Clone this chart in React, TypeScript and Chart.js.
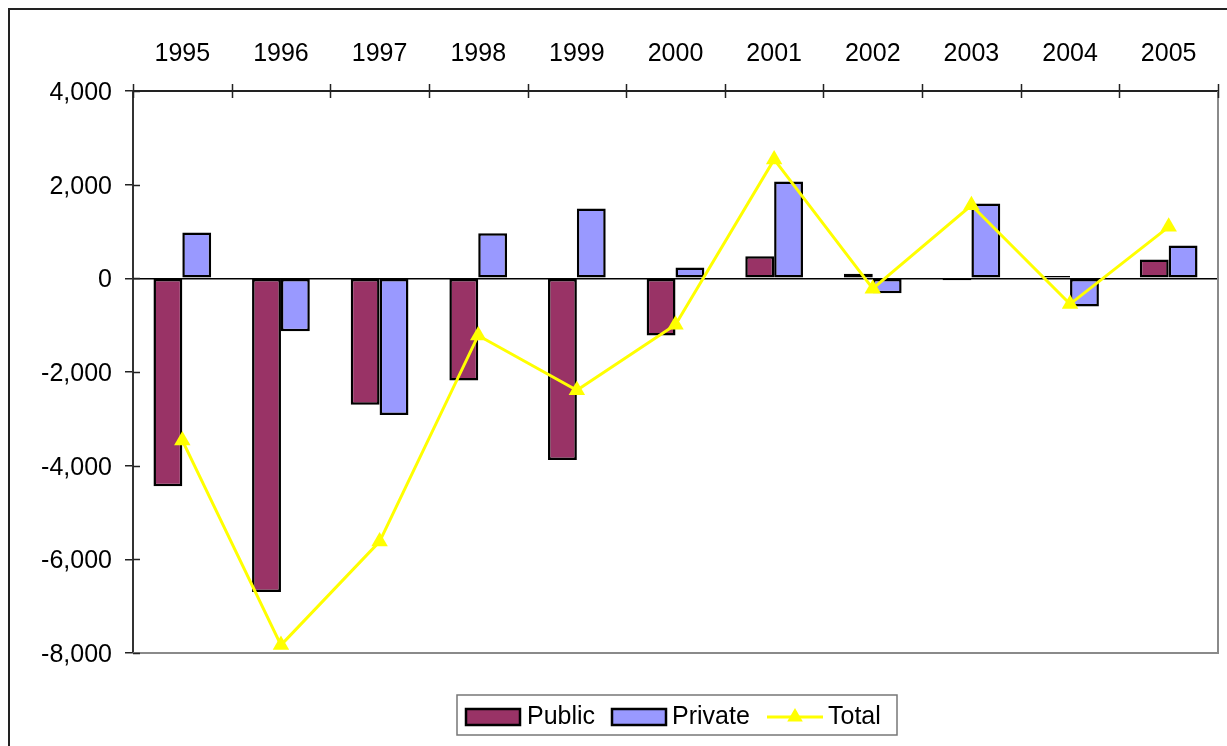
import React, { useEffect, useRef } from "react";
import { Chart, registerables } from "chart.js";

Chart.register(...registerables);

const years = ["1995", "1996", "1997", "1998", "1999", "2000", "2001", "2002", "2003", "2004", "2005"];
const publicValues = [-4440, -6700, -2700, -2180, -3880, -1220, 470, 100, -40, 50, 400];
const privateValues = [980, -1130, -2920, 960, 1490, 230, 2070, -320, 1600, -600, 700];
const totalValues = [-3460, -7830, -5620, -1220, -2390, -990, 2540, -220, 1560, -550, 1100];
const yMin = -8000;
const yMax = 4000;
const yStep = 2000;

const FONT = "'Liberation Sans', Arial, sans-serif";
const PUBLIC_COLOR = "#993366";
const PRIVATE_COLOR = "#9999FF";
const TOTAL_COLOR = "#FFFF00";

const W = 1230;
const H = 745;

function triangle(ctx: CanvasRenderingContext2D, x: number, y: number, r: number) {
  ctx.beginPath();
  for (let k = 0; k < 3; k++) {
    const a = (k * 2 * Math.PI) / 3;
    const px = x + Math.sin(a) * r;
    const py = y - Math.cos(a) * r;
    if (k === 0) ctx.moveTo(px, py);
    else ctx.lineTo(px, py);
  }
  ctx.closePath();
  ctx.fill();
}

const decorPlugin = {
  id: "decor",
  beforeDraw(chart: any) {
    const ctx = chart.ctx;
    ctx.save();
    ctx.fillStyle = "#fff";
    ctx.fillRect(0, 0, chart.width, chart.height);
    ctx.strokeStyle = "#222";
    ctx.lineWidth = 2;
    ctx.strokeRect(1, 1, chart.width + 10, chart.height + 10);
    ctx.restore();
  },
  beforeDatasetsDraw(chart: any) {
    const ctx = chart.ctx;
    const a = chart.chartArea;
    ctx.save();
    ctx.strokeStyle = "#8a8a8a";
    ctx.lineWidth = 2;
    ctx.beginPath();
    ctx.moveTo(a.left, a.bottom);
    ctx.lineTo(a.right, a.bottom);
    ctx.lineTo(a.right, a.top);
    ctx.stroke();
    // category tick marks on the top axis, crossing the axis line
    const n = years.length;
    ctx.strokeStyle = "#222";
    ctx.lineWidth = 1.5;
    ctx.beginPath();
    for (let i = 0; i <= n; i++) {
      const x = Math.round(a.left + (i * (a.right - a.left)) / n) + 0.5;
      ctx.moveTo(x, a.top - 7);
      ctx.lineTo(x, a.top + 7);
    }
    // inner part of the value-axis tick marks
    const ys = chart.scales.y;
    ys.ticks.forEach((t: any) => {
      const y = Math.round(ys.getPixelForValue(t.value)) + 0.5;
      ctx.moveTo(a.left, y);
      ctx.lineTo(a.left + 7, y);
    });
    ctx.stroke();
    ctx.restore();
  },
  afterDraw(chart: any) {
    const ctx = chart.ctx;
    ctx.save();
    // legend
    const bx = 449, by = 687, bw = 440, bh = 40;
    ctx.strokeStyle = "#777";
    ctx.lineWidth = 1.5;
    ctx.strokeRect(bx, by, bw, bh);
    const cy = by + 22;
    ctx.font = `25px ${FONT}`;
    ctx.fillStyle = "#000";
    ctx.textBaseline = "middle";
    ctx.textAlign = "left";
    // Public
    ctx.fillStyle = PUBLIC_COLOR;
    ctx.fillRect(458, cy - 8, 54, 16);
    ctx.strokeStyle = "#000";
    ctx.lineWidth = 2.5;
    ctx.strokeRect(458, cy - 8, 54, 16);
    ctx.fillStyle = "#000";
    ctx.fillText("Public", 519, cy);
    // Private
    ctx.fillStyle = PRIVATE_COLOR;
    ctx.fillRect(604, cy - 8, 54, 16);
    ctx.strokeRect(604, cy - 8, 54, 16);
    ctx.fillStyle = "#000";
    ctx.fillText("Private", 664, cy);
    // Total
    ctx.strokeStyle = TOTAL_COLOR;
    ctx.lineWidth = 3;
    ctx.beginPath();
    ctx.moveTo(759, cy);
    ctx.lineTo(815, cy);
    ctx.stroke();
    ctx.fillStyle = TOTAL_COLOR;
    triangle(ctx, 787, cy, 9);
    ctx.fillStyle = "#000";
    ctx.fillText("Total", 820, cy);
    ctx.restore();
  },
};

export default function App() {
  const ref = useRef<HTMLCanvasElement | null>(null);

  useEffect(() => {
    document.documentElement.style.overflow = "hidden";
    const canvas = ref.current;
    if (!canvas) return;
    Chart.defaults.font.family = FONT;
    Chart.defaults.font.size = 25;
    Chart.defaults.color = "#000";

    const chart = new Chart(canvas, {
      type: "bar",
      data: {
        labels: years,
        datasets: [
          {
            type: "bar",
            label: "Public",
            data: publicValues,
            backgroundColor: PUBLIC_COLOR,
            borderColor: "#000",
            borderWidth: 2.5,
            borderSkipped: false,
            order: 1,
            categoryPercentage: 0.585,
            barPercentage: 1.0,
          },
          {
            type: "bar",
            label: "Private",
            data: privateValues,
            backgroundColor: PRIVATE_COLOR,
            borderColor: "#000",
            borderWidth: 2.5,
            borderSkipped: false,
            order: 1,
            categoryPercentage: 0.585,
            barPercentage: 1.0,
          },
          {
            type: "line",
            label: "Total",
            data: totalValues,
            borderColor: TOTAL_COLOR,
            backgroundColor: TOTAL_COLOR,
            borderWidth: 3,
            pointStyle: "triangle",
            pointRadius: 9.5,
            pointBackgroundColor: TOTAL_COLOR,
            pointBorderColor: TOTAL_COLOR,
            pointBorderWidth: 0,
            tension: 0,
            order: 0,
          } as any,
        ],
      },
      options: {
        responsive: false,
        animation: false,
        layout: { padding: { left: 0, top: 0, right: W - 1210, bottom: H - 645 } },
        plugins: {
          legend: { display: false },
          tooltip: { enabled: false },
        },
        scales: {
          x: {
            position: "top",
            offset: true,
            grid: { display: false, drawTicks: false, offset: true },
            border: { display: true, color: "#222", width: 2 },
            ticks: { padding: 22, font: { size: 25, family: FONT }, color: "#000", maxRotation: 0 },
            afterFit(scale: any) {
              scale.height = 83;
            },
          },
          y: {
            min: yMin,
            max: yMax,
            ticks: {
              stepSize: yStep,
              padding: 13,
              labelOffset: 2,
              font: { size: 25, family: FONT },
              color: "#000",
              callback: (v: any) => Number(v).toLocaleString("en-US"),
            },
            grid: {
              display: true,
              drawOnChartArea: true,
              drawTicks: true,
              tickLength: 8,
              color: (c: any) => (c.tick && c.tick.value === 0 ? "#000" : "rgba(0,0,0,0)"),
              tickColor: "#222",
              lineWidth: 1.5,
            },
            border: { display: true, color: "#333", width: 2 },
            afterFit(scale: any) {
              scale.width = 125;
            },
          },
        },
      },
      plugins: [decorPlugin],
    } as any);

    return () => chart.destroy();
  }, []);

  return (
    <div style={{ position: "fixed", left: 8, top: 8, width: W, height: H, overflow: "hidden" }}>
      <canvas ref={ref} width={W} height={H} style={{ width: W, height: H, display: "block" }} />
    </div>
  );
}
